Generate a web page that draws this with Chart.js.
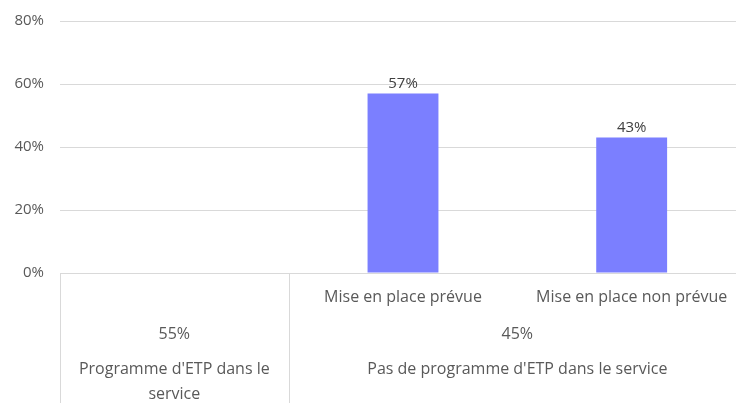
<!DOCTYPE html>
<html>
<head>
<meta charset="utf-8">
<script src="https://cdn.jsdelivr.net/npm/chart.js@4.4.1/dist/chart.umd.min.js"></script>
<style>
  html, body { margin: 0; padding: 0; background: #fff; overflow: hidden; }
  #wrap { width: 750px; height: 403px; }
</style>
</head>
<body>
<div id="wrap"><canvas id="chart" width="750" height="403"></canvas></div>
<script>
// sub categories along the x axis (first one is empty, it belongs to group 1)
var categories = ['', 'Mise en place prévue', 'Mise en place non prévue'];
var values = [null, 57, 43];

// second level of the axis
var groupNames = [["Programme d'ETP dans le", "service"], ["Pas de programme d'ETP dans le service"]];
var groupShares = ['55%', '45%'];
var groupSize = [1, 2];

var yTicks = [0, 20, 40, 60, 80];

var FONT = "'Open Sans', sans-serif";
var TEXT = '#595959';

// draws value labels, the axis boxes and the two text rows under the axis
var axisLabels = {
    id: 'axisLabels',
    afterDraw: function(chart) {
        var ctx = chart.ctx;
        var x = chart.scales.x;
        var area = chart.chartArea;
        var half = (x.getPixelForValue(1) - x.getPixelForValue(0)) / 2;

        ctx.save();
        // value labels over bars
        ctx.fillStyle = '#404040';
        ctx.font = '15px ' + FONT;
        ctx.textAlign = 'center';
        ctx.textBaseline = 'bottom';
        chart.getDatasetMeta(0).data.forEach(function(bar, i) {
            if (values[i] == null) return;
            ctx.fillText(values[i] + '%', bar.x, bar.y - 2);
        });

        // vertical separators between groups
        ctx.strokeStyle = '#d9d9d9';
        ctx.lineWidth = 1;
        var start = 0;
        var edges = [];
        for (var g = 0; g < groupSize.length; g++) {
            var left = x.getPixelForValue(start) - half;
            var right = x.getPixelForValue(start + groupSize[g] - 1) + half;
            edges.push([left, right]);
            start += groupSize[g];
        }
        edges.forEach(function(e) {
            var px = Math.round(e[0]) + 0.5;
            ctx.beginPath();
            ctx.moveTo(px, area.bottom);
            ctx.lineTo(px, chart.height);
            ctx.stroke();
        });

        ctx.fillStyle = TEXT;
        ctx.font = '16px ' + FONT;
        ctx.textBaseline = 'middle';
        // first level labels
        categories.forEach(function(c, i) {
            if (c) ctx.fillText(c, x.getPixelForValue(i), area.bottom + 24);
        });
        // group shares and names
        edges.forEach(function(e, g) {
            var cx = (e[0] + e[1]) / 2;
            ctx.fillText(groupShares[g], cx, area.bottom + 61);
            groupNames[g].forEach(function(line, k) {
                ctx.fillText(line, cx, area.bottom + 96 + k * 25);
            });
        });
        ctx.restore();
    }
};

new Chart(document.getElementById('chart'), {
    type: 'bar',
    data: {
        labels: categories,
        datasets: [{
            data: values,
            backgroundColor: '#7b7fff',
            borderWidth: 0,
            barPercentage: 0.62,
            categoryPercentage: 0.5
        }]
    },
    options: {
        responsive: false,
        animation: false,
        layout: { padding: { top: 21, right: 4, bottom: 122, left: 0 } },
        plugins: {
            legend: { display: false },
            tooltip: { enabled: false }
        },
        scales: {
            x: {
                grid: { display: false },
                border: { display: false },
                ticks: { display: false }
            },
            y: {
                min: 0,
                max: 80,
                afterBuildTicks: function(axis) {
                    axis.ticks = yTicks.map(function(v) { return { value: v }; });
                },
                afterFit: function(axis) {
                    axis.width = 60;
                    axis.paddingTop = 0;
                    axis.paddingBottom = 0;
                },
                grid: { color: '#d9d9d9', drawTicks: false },
                border: { display: false },
                ticks: {
                    padding: 16,
                    color: TEXT,
                    font: { family: FONT, size: 15 },
                    callback: function(v) { return v + '%'; }
                }
            }
        }
    },
    plugins: [axisLabels]
});
</script>
</body>
</html>
